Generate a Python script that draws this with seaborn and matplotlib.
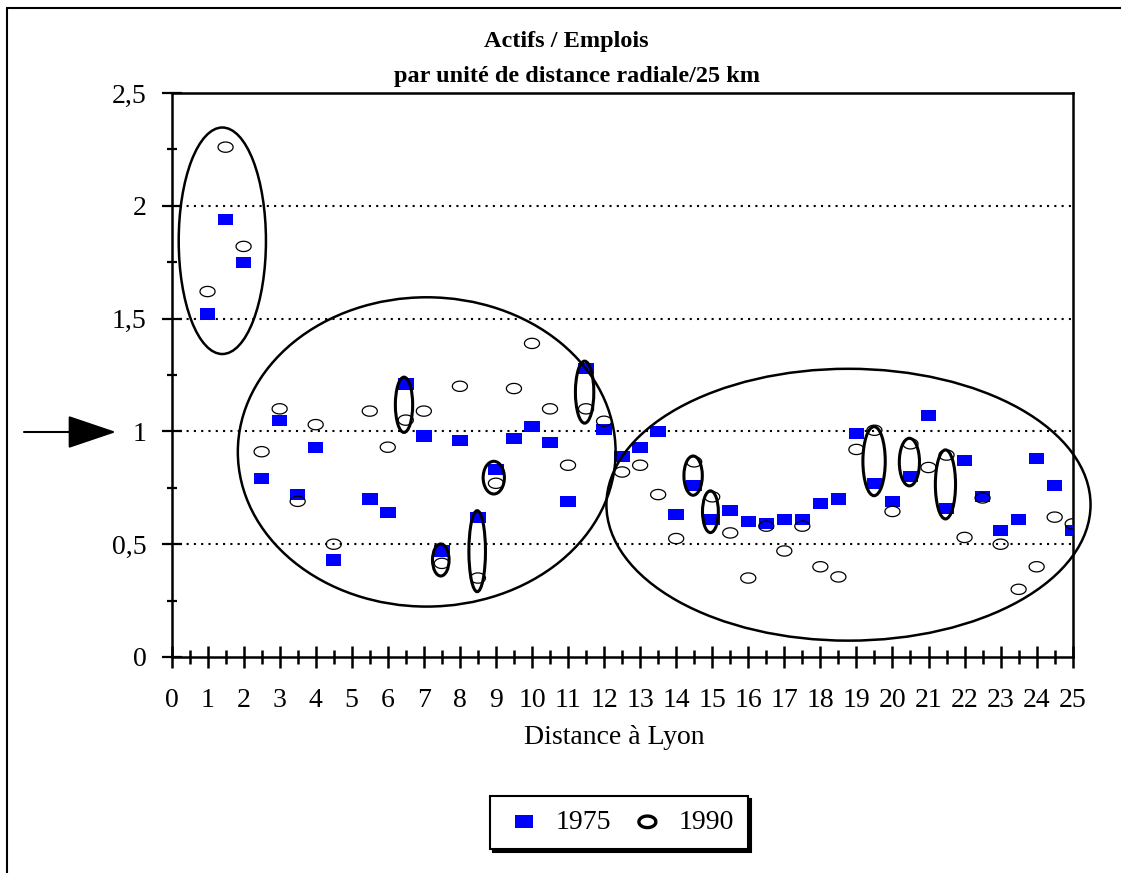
import numpy as np
import pandas as pd
import matplotlib
matplotlib.use("Agg")
import matplotlib.pyplot as plt
import seaborn as sns
from matplotlib.patches import Ellipse, FancyArrowPatch, ArrowStyle
from matplotlib.lines import Line2D
from matplotlib.ticker import MultipleLocator, FuncFormatter

# ---------------- data ----------------
distance = [1, 1.5, 2, 2.5, 3, 3.5, 4, 4.5,
            5.5, 6, 6.5, 7, 7.5, 8, 8.5, 9, 9.5, 10,
            10.5, 11, 11.5, 12, 12.5, 13, 13.5, 14, 14.5, 15,
            15.5, 16, 16.5, 17, 17.5, 18, 18.5, 19, 19.5, 20,
            20.5, 21, 21.5, 22, 22.5, 23, 23.5, 24, 24.5, 25]
ratio_1975 = [1.52, 1.94, 1.75, 0.79, 1.05, 0.72, 0.93, 0.43,
              0.70, 0.64, 1.21, 0.98, 0.47, 0.96, 0.62, 0.83, 0.97, 1.02,
              0.95, 0.69, 1.28, 1.01, 0.89, 0.93, 1.00, 0.63, 0.76, 0.61,
              0.65, 0.60, 0.59, 0.61, 0.61, 0.68, 0.70, 0.99, 0.77, 0.69,
              0.80, 1.07, 0.66, 0.87, 0.71, 0.56, 0.61, 0.88, 0.76, 0.56]
ratio_1990 = [1.62, 2.26, 1.82, 0.91, 1.10, 0.69, 1.03, 0.50,
              1.09, 0.93, 1.05, 1.09, 0.415, 1.20, 0.35, 0.77, 1.19, 1.39,
              1.10, 0.85, 1.10, 1.045, 0.82, 0.85, 0.72, 0.525, 0.865, 0.71,
              0.55, 0.35, 0.58, 0.47, 0.58, 0.40, 0.355, 0.92, 1.005, 0.645,
              0.945, 0.84, 0.895, 0.53, 0.705, 0.50, 0.30, 0.40, 0.62, 0.59]
series_labels = ["1975", "1990"]
title_lines = ["Actifs / Emplois", "par unité de distance radiale/25 km"]
x_label = "Distance à Lyon"

# highlight ellipses (annotation, data coords): centre x, centre y, width, height
groups = [(1.41, 1.845, 2.42, 1.004),
          (7.08, 0.909, 10.48, 1.371),
          (18.78, 0.675, 13.43, 1.205)]
pairs = [(6.45, 1.118, 0.48, 0.245), (7.47, 0.430, 0.46, 0.142),
         (8.48, 0.469, 0.46, 0.359), (8.94, 0.795, 0.59, 0.145),
         (11.46, 1.174, 0.51, 0.275), (14.47, 0.804, 0.51, 0.174),
         (14.95, 0.644, 0.44, 0.185), (19.49, 0.868, 0.62, 0.306),
         (20.47, 0.864, 0.56, 0.211), (21.47, 0.765, 0.56, 0.306)]

df = pd.DataFrame({"distance": distance, "r1975": ratio_1975, "r1990": ratio_1990})

# ---------------- style ----------------
sns.set_style("white")
plt.rcParams["font.family"] = ["Liberation Serif", "DejaVu Serif"]
plt.rcParams["text.color"] = "black"
plt.rcParams["axes.labelcolor"] = "black"
plt.rcParams["xtick.color"] = "black"
plt.rcParams["ytick.color"] = "black"
plt.rcParams["xtick.labelcolor"] = "black"
plt.rcParams["ytick.labelcolor"] = "black"

W, H = 1121, 873
fig = plt.figure(figsize=(W / 100, H / 100), dpi=100)
fig.patch.set_facecolor("white")
ax = fig.add_axes([171.5 / W, 1 - 657 / H, (1072.7 - 171.5) / W, (657 - 93) / H])

rect_marker = [(-1, -0.72), (1, -0.72), (1, 0.72), (-1, 0.72), (-1, -0.72)]
theta = np.linspace(0, 2 * np.pi, 60)
ell_marker = list(zip(np.cos(theta), 0.68 * np.sin(theta)))

sns.scatterplot(data=df, x="distance", y="r1975", ax=ax, marker=rect_marker,
                s=125, color="#0000FF", edgecolor="none", linewidth=0,
                label=series_labels[0], zorder=3, legend=False)
sns.scatterplot(data=df, x="distance", y="r1990", ax=ax, marker=ell_marker,
                s=118, facecolor="none", edgecolor="black", linewidth=0.9,
                label=series_labels[1], zorder=4, legend=False)

ax.set_xlim(0, 25)
ax.set_ylim(0, 2.5)
ax.xaxis.set_major_locator(MultipleLocator(1))
ax.xaxis.set_minor_locator(MultipleLocator(0.5))
ax.yaxis.set_major_locator(MultipleLocator(0.5))
ax.yaxis.set_minor_locator(MultipleLocator(0.25))
ax.yaxis.set_major_formatter(FuncFormatter(lambda v, p: ("%g" % v).replace(".", ",")))
ax.xaxis.set_major_formatter(FuncFormatter(lambda v, p: "%d" % v))

ax.tick_params(axis="x", which="major", direction="inout", length=16, width=1.8,
               labelsize=20, pad=14, bottom=True, top=False, color="black",
               labelcolor="black")
ax.tick_params(axis="x", which="minor", direction="inout", length=10, width=1.8,
               bottom=True, top=False, color="black")
ax.tick_params(axis="y", which="major", direction="inout", length=14, width=1.6,
               labelsize=20, pad=11, left=True, right=False, color="black",
               labelcolor="black")
ax.tick_params(axis="y", which="minor", direction="inout", length=7.5, width=1.6,
               left=True, right=False, color="black")

for s in ax.spines.values():
    s.set_color("black")
    s.set_linewidth(1.8)

ax.set_ylabel("")
for yv in [0.5, 1.0, 1.5, 2.0]:
    ax.axhline(yv, color="black", lw=1.5, ls=(0, (1, 2.5)), zorder=1)

for (cx, cy, w, h) in groups:
    ax.add_patch(Ellipse((cx, cy), w, h, fill=False, ec="black", lw=1.8,
                         zorder=5, clip_on=False))
for (cx, cy, w, h) in pairs:
    ax.add_patch(Ellipse((cx, cy), w, h, fill=False, ec="black", lw=2.2,
                         zorder=5, clip_on=False))

ax.set_xlabel(x_label, fontsize=20, color="black")
ax.xaxis.set_label_coords((614 - 171.5) / (1072.7 - 171.5), -(725 - 657) / (657 - 93))

# title
fig.text(566.5 / W, 1 - 46.7 / H, title_lines[0], ha="center", va="baseline",
         fontsize=17.5, fontweight="bold", color="black")
fig.text(577 / W, 1 - 81.7 / H, title_lines[1], ha="center", va="baseline",
         fontsize=17.5, fontweight="bold", color="black")

# arrow pointing at ratio 1
arr = FancyArrowPatch((24 / W, 1 - 432 / H), (116 / W, 1 - 432 / H),
                      transform=fig.transFigure,
                      arrowstyle=ArrowStyle("-|>", head_length=31, head_width=10.5),
                      mutation_scale=1, lw=1.5, color="black",
                      shrinkA=0, shrinkB=0)
fig.patches.append(arr)

# figure border (left and top visible)
fig.add_artist(Line2D([7 / W, 7 / W], [0, 1 - 8 / H], transform=fig.transFigure,
                      color="black", lw=1.5))
fig.add_artist(Line2D([7 / W, 1], [1 - 8 / H, 1 - 8 / H], transform=fig.transFigure,
                      color="black", lw=1.5))

leg = ax.legend(loc="center", bbox_to_anchor=(619 / W, 1 - 822.4 / H),
                bbox_transform=fig.transFigure, ncol=2, fontsize=20,
                frameon=True, fancybox=False, edgecolor="black",
                shadow={"color": "black", "alpha": 1},
                borderpad=0.5, handlelength=1.44, handletextpad=0.4,
                columnspacing=0.6)
leg.get_frame().set_linewidth(1.5)
for t in leg.get_texts():
    t.set_color("black")
hs = leg.legend_handles
hs[0].set_sizes([170])
hs[1].set_sizes([150])
hs[1].set_linewidth(2.4)

fig.savefig("out.png", dpi=100, facecolor="white")
